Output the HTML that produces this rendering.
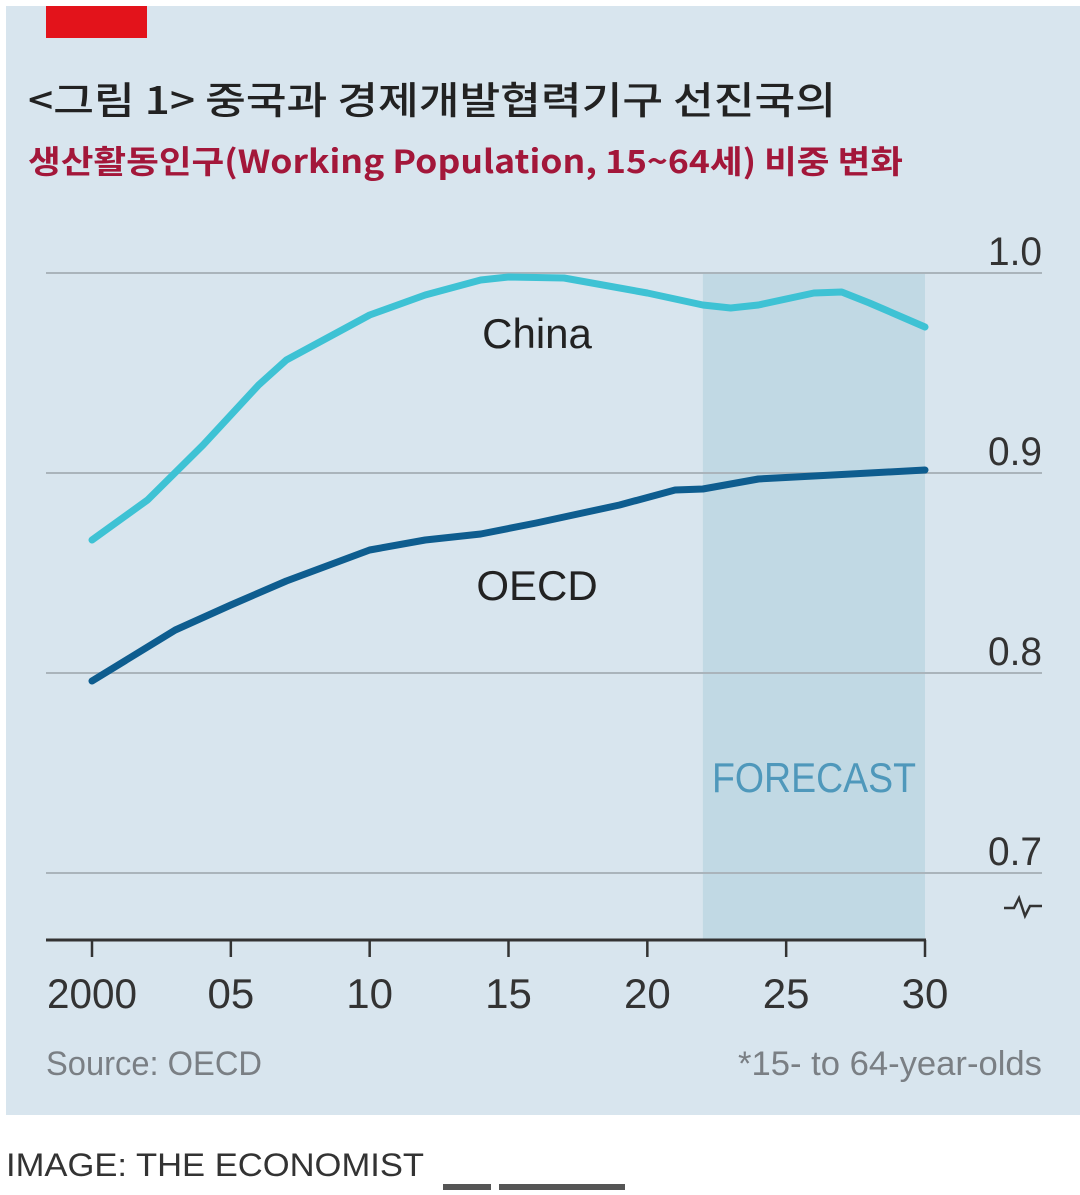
<!DOCTYPE html>
<html><head><meta charset="utf-8"><style>
body{margin:0;width:1080px;height:1190px;background:#fff;overflow:hidden;font-family:"Liberation Sans","Noto Sans CJK KR",sans-serif}
</style></head><body>
<svg width="1080" height="1190" xmlns="http://www.w3.org/2000/svg">
<rect x="6" y="6" width="1074" height="1109" fill="#d8e5ee"/>
<rect x="46" y="6" width="101" height="32" fill="#e3131b"/>
<text x="28" y="114" font-size="38" font-weight="500" fill="#222" font-family="'Noto Sans CJK KR',sans-serif" textLength="808" lengthAdjust="spacingAndGlyphs">&lt;그림 1&gt; 중국과 경제개발협력기구 선진국의</text>
<text x="28" y="173" font-size="32" font-weight="bold" fill="#a3173a" font-family="'Noto Sans CJK KR',sans-serif" textLength="875" lengthAdjust="spacingAndGlyphs">생산활동인구(Working Population, 15~64세) 비중 변화</text>
<g id="plot"></g>
<text x="46" y="1075" font-size="34" fill="#7a7f84" textLength="216" lengthAdjust="spacingAndGlyphs">Source: OECD</text>
<text x="1042" y="1075" font-size="34" fill="#7a7f84" text-anchor="end" textLength="304" lengthAdjust="spacingAndGlyphs">*15- to 64-year-olds</text>
<text x="6" y="1176" font-size="32" fill="#333" textLength="418" lengthAdjust="spacingAndGlyphs">IMAGE: THE ECONOMIST</text>
<rect x="443" y="1184" width="48" height="6" fill="#555"/>
<rect x="499" y="1184" width="126" height="6" fill="#555"/>
</svg>
<script>
const yTicks=[1.0,0.9,0.8,0.7];
const xTicks=[2000,2005,2010,2015,2020,2025,2030];
const xTickLabels=["2000","05","10","15","20","25","30"];
const chinaYears=[2000,2002,2004,2005,2006,2007,2008,2010,2012,2014,2015,2017,2020,2022,2023,2024,2026,2027,2028,2030];
const chinaValues=[0.8665,0.8865,0.914,0.929,0.944,0.9565,0.964,0.979,0.989,0.9965,0.998,0.9975,0.99,0.984,0.9825,0.984,0.99,0.9905,0.985,0.973];
const oecdYears=[2000,2003,2005,2007,2010,2012,2014,2016,2019,2021,2022,2024,2026,2028,2030];
const oecdValues=[0.796,0.8215,0.834,0.846,0.8615,0.8665,0.8695,0.875,0.884,0.8915,0.892,0.897,0.8985,0.9,0.9015];
const forecastStart=2022, forecastEnd=2030;
const xS=v=>92+(v-2000)*(925-92)/30;
const yS=v=>273+(1.0-v)*2000;
const NS="http://www.w3.org/2000/svg";
const g=document.getElementById('plot');
function mk(tag,attrs){const e=document.createElementNS(NS,tag);for(const k in attrs)e.setAttribute(k,attrs[k]);g.appendChild(e);return e;}
let r=mk('rect',{x:xS(forecastStart),y:yS(1.0),width:xS(forecastEnd)-xS(forecastStart),height:940-yS(1.0),fill:'#c1d9e4'});


yTicks.forEach(v=>{
 const l=mk('line',{x1:46,x2:1042,y1:yS(v),y2:yS(v),stroke:'#aab4bb','stroke-width':2});
 
 
 const t=mk('text',{x:1042,y:yS(v)-8,'font-size':40,fill:'#333','text-anchor':'end',textLength:54,lengthAdjust:'spacingAndGlyphs'});
 t.textContent=v.toFixed(1);
 
 
});
let ft=mk('text',{x:814,y:792,'font-size':42,fill:'#4f98bb','text-anchor':'middle',textLength:204,lengthAdjust:'spacingAndGlyphs'});
ft.textContent='FORECAST';


let brk=mk('polyline',{points:'1004,908 1014,908 1019,898 1025,916 1030,906 1042,906',fill:'none',stroke:'#333','stroke-width':2.5});


let ax=mk('line',{x1:46,x2:926,y1:940,y2:940,stroke:'#333','stroke-width':3});


xTicks.forEach((v,i)=>{
 const l=mk('line',{x1:xS(v),x2:xS(v),y1:940,y2:957,stroke:'#333','stroke-width':2.5});
 
 
 const t=mk('text',{x:xS(v),y:1008,'font-size':42,fill:'#333','text-anchor':'middle'});
 if(i===0){t.setAttribute('textLength',90);t.setAttribute('lengthAdjust','spacingAndGlyphs');}
 t.textContent=xTickLabels[i];
 
 
});
function line(xs,ys,color,name){
 const p=mk('polyline',{points:xs.map((x,i)=>xS(x)+','+yS(ys[i])).join(' '),fill:'none',stroke:color,'stroke-width':7,'stroke-linejoin':'round','stroke-linecap':'round'});
 
 
}
line(chinaYears,chinaValues,'#3ec2d4','china-line');
line(oecdYears,oecdValues,'#0e5d8f','oecd-line');
let cl=mk('text',{x:537,y:348,'font-size':42,fill:'#222','text-anchor':'middle'});
cl.textContent='China';


let ol=mk('text',{x:537,y:600,'font-size':42,fill:'#222','text-anchor':'middle'});
ol.textContent='OECD';


</script>
</body></html>
